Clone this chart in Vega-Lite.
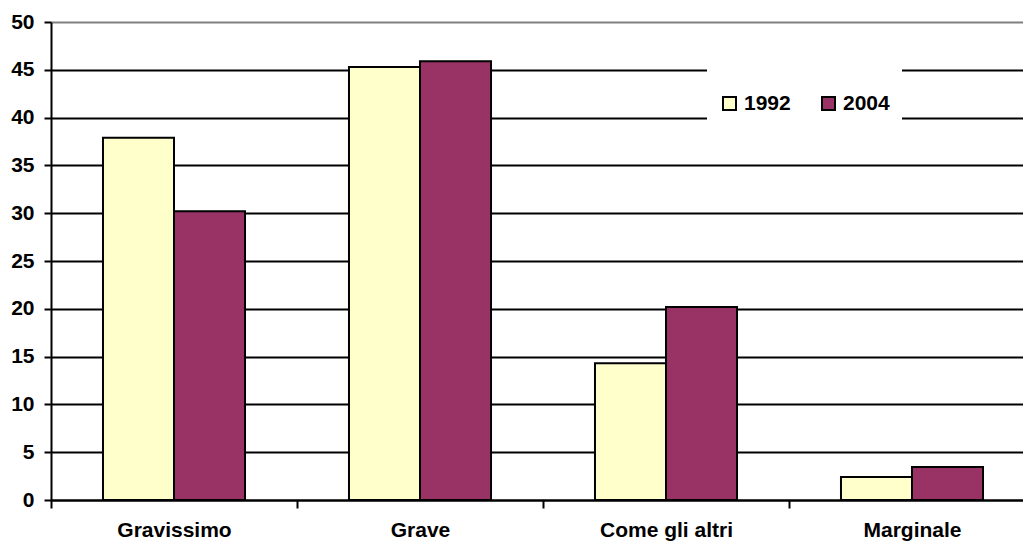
{
  "$schema": "https://vega.github.io/schema/vega-lite/v6.json",
  "autosize": {"type": "none"},
  "width": 972,
  "height": 478,
  "padding": {"left": 51, "top": 22, "right": 0, "bottom": 43},
  "background": "white",
  "config": {
    "view": {"stroke": null},
    "font": "Liberation Sans"
  },
  "data": {
    "values": [
      {"categoria": "Gravissimo", "anno": "1992", "valore": 37.9},
      {"categoria": "Gravissimo", "anno": "2004", "valore": 30.2},
      {"categoria": "Grave", "anno": "1992", "valore": 45.3},
      {"categoria": "Grave", "anno": "2004", "valore": 45.9},
      {"categoria": "Come gli altri", "anno": "1992", "valore": 14.3},
      {"categoria": "Come gli altri", "anno": "2004", "valore": 20.2},
      {"categoria": "Marginale", "anno": "1992", "valore": 2.4},
      {"categoria": "Marginale", "anno": "2004", "valore": 3.45}
    ]
  },
  "mark": {"type": "bar", "stroke": "black", "strokeWidth": 2},
  "encoding": {
    "x": {
      "field": "categoria",
      "type": "nominal",
      "sort": ["Gravissimo", "Grave", "Come gli altri", "Marginale"],
      "scale": {"paddingInner": 0, "paddingOuter": 0, "range": [0, 984]},
      "axis": {
        "title": null,
        "labelAngle": 0,
        "labelFont": "Liberation Sans",
        "labelFontWeight": "bold",
        "labelFontSize": 21,
        "labelColor": "black",
        "labelPadding": 11,
        "tickBand": "extent",
        "tickColor": "black",
        "tickWidth": 2,
        "tickSize": 8,
        "domainColor": "black",
        "domainWidth": 2,
        "grid": false
      }
    },
    "xOffset": {
      "field": "anno",
      "type": "nominal",
      "scale": {"paddingInner": 0, "paddingOuter": 0.732}
    },
    "y": {
      "field": "valore",
      "type": "quantitative",
      "scale": {"domain": [0, 50], "nice": false},
      "axis": {
        "title": null,
        "values": [0, 5, 10, 15, 20, 25, 30, 35, 40, 45, 50],
        "labelFont": "Liberation Sans",
        "labelFontWeight": "bold",
        "labelFontSize": 21,
        "labelColor": "black",
        "labelPadding": 10,
        "tickColor": "black",
        "tickWidth": 2,
        "tickSize": 7,
        "domainColor": "black",
        "domainWidth": 2,
        "grid": true,
        "gridColor": {"condition": {"test": "datum.value == 50", "value": "#808080"}, "value": "black"},
        "gridWidth": 2,
        "gridOpacity": 1
      }
    },
    "fill": {
      "field": "anno",
      "type": "nominal",
      "scale": {"domain": ["1992", "2004"], "range": ["#FFFFCC", "#993366"]},
      "legend": {
        "title": "\u00a0",
        "titleFontSize": 24,
        "titlePadding": 0,
        "orient": "none",
        "legendX": 656,
        "legendY": 35,
        "direction": "horizontal",
        "fillColor": "white",
        "padding": 12,
        "columnPadding": 27,
        "symbolType": "square",
        "symbolSize": 169,
        "symbolStrokeColor": "black",
        "symbolStrokeWidth": 2,
        "symbolOffset": 0,
        "labelFont": "Liberation Sans",
        "labelFontWeight": "bold",
        "labelFontSize": 21,
        "labelColor": "black",
        "labelOffset": 4
      }
    }
  }
}
